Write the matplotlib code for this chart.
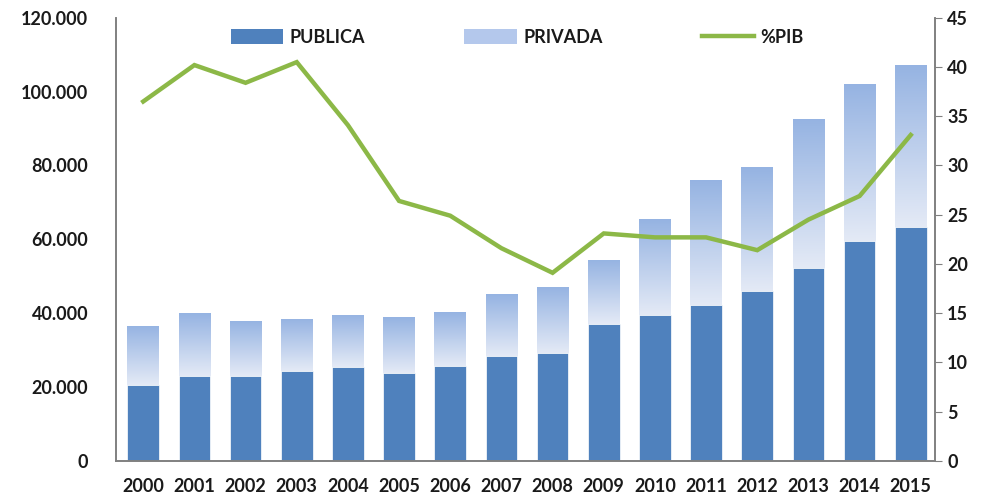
import matplotlib
matplotlib.use('Agg')
import matplotlib.pyplot as plt
import numpy as np
from matplotlib.patches import Patch
from matplotlib.lines import Line2D
from matplotlib.ticker import FuncFormatter

plt.rcParams['font.family'] = ['Lato', 'DejaVu Sans']

years = ['2000', '2001', '2002', '2003', '2004', '2005', '2006', '2007',
         '2008', '2009', '2010', '2011', '2012', '2013', '2014', '2015']
publica = [20.6, 23.0, 23.0, 24.4, 25.4, 23.8, 25.8, 28.5,
           29.1, 37.0, 39.5, 42.2, 46.0, 52.1, 59.6, 63.4]
total = [36.6, 40.0, 38.0, 38.5, 39.5, 38.9, 40.4, 45.1,
         47.0, 54.5, 65.4, 76.1, 79.5, 92.6, 102.2, 107.3]
pib = [36.5, 40.2, 38.4, 40.5, 34.1, 26.4, 24.9, 21.6,
       19.1, 23.1, 22.7, 22.7, 21.4, 24.5, 26.9, 33.1]

publica = np.array(publica) * 1000
privada = np.array(total) * 1000 - publica

dark = '#4f81bd'
green = '#8cb847'
x = np.arange(len(years))
w = 0.62

fig = plt.figure(figsize=(9.84, 4.95), dpi=100)
ax = fig.add_axes([0.118, 0.069, 0.832, 0.895])

ax.bar(x, publica, w, color=dark, edgecolor='white', linewidth=0.5, zorder=2)
priv_bars = ax.bar(x, privada, w, bottom=publica, color='none', edgecolor='none', zorder=3)

# gradient fill for the private part, clipped to each bar
grad = np.linspace(0, 1, 256).reshape(-1, 1)
cmap = matplotlib.colors.LinearSegmentedColormap.from_list('g', ['#e4eaf6', '#95b3e2'])
for b in priv_bars:
    x0, y0 = b.get_x(), b.get_y()
    img = ax.imshow(grad, cmap=cmap, aspect='auto', origin='lower', interpolation='bilinear',
                    extent=[x0, x0 + b.get_width(), y0, y0 + b.get_height()], zorder=1.5)
    img.set_clip_path(b)

ax.set_xlim(-0.53, 15.47)
ax.set_ylim(0, 120000)
ax.set_yticks(np.arange(0, 120001, 20000))
ax.yaxis.set_major_formatter(FuncFormatter(lambda v, p: '0' if v == 0 else '{:,.0f}'.format(v).replace(',', '.')))
ax.set_xticks(x)
ax.set_xticklabels(years)

ax2 = ax.twinx()
ax2.plot(x, pib, color=green, linewidth=3.2, solid_joinstyle='miter', zorder=4)
ax2.set_ylim(0, 45)
ax2.set_yticks(np.arange(0, 46, 5))

for a in (ax, ax2):
    a.spines['top'].set_visible(False)
    for s in ('left', 'right', 'bottom'):
        a.spines[s].set_color('#808080')
        a.spines[s].set_linewidth(1.2)
    a.tick_params(labelsize=13, colors='#808080', labelcolor='#1a1a1a')
    for lab in a.get_xticklabels() + a.get_yticklabels():
        lab.set_fontweight('bold')

ax.tick_params(axis='y', length=0, pad=20)
ax.tick_params(axis='x', length=0, pad=12)
ax2.tick_params(axis='y', length=5, pad=4)

handles = [Patch(facecolor=dark, edgecolor='none'),
           Patch(facecolor='#b4c8ec', edgecolor='none'),
           Line2D([0], [0], color=green, linewidth=3.2)]
leg = ax.legend(handles, ['PUBLICA', 'PRIVADA', '%PIB'], loc='upper center',
                bbox_to_anchor=(0.49, 1.012), ncol=3, frameon=False, columnspacing=5.5,
                handlelength=2.9, handleheight=0.9, handletextpad=0.35,
                prop={'weight': 'bold', 'size': 13})
for t in leg.get_texts():
    t.set_color('#1a1a1a')

fig.savefig('out.png', dpi=100)
